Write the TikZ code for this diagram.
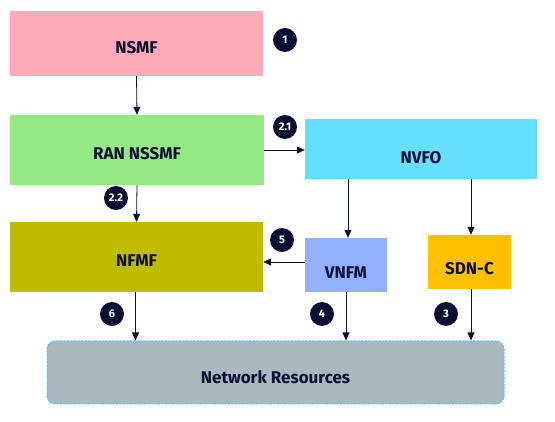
\documentclass[tikz,border=0pt]{standalone}
\usepackage{fontspec}
\setmainfont{Fira Sans}
\usetikzlibrary{positioning,arrows.meta}
\definecolor{ink}{HTML}{0A1033}
\definecolor{nsmfpink}{HTML}{FFAAB8}
\definecolor{ranGreen}{HTML}{94E985}
\definecolor{nvfoCyan}{HTML}{66DEFF}
\definecolor{nfmfOlive}{HTML}{BFBC00}
\definecolor{vnfmBlue}{HTML}{92B0FF}
\definecolor{sdncOrange}{HTML}{FFC000}
\definecolor{resGrey}{HTML}{A9B9BF}
\definecolor{resBorder}{HTML}{33CCFF}
\begin{document}
\begin{tikzpicture}[x=1pt,y=-1pt,
    boxnode/.style={rectangle, inner sep=0pt, font=\fontsize{17}{19}\selectfont\bfseries, text=ink},
    badge/.style={circle, fill=ink, text=white, inner sep=0pt, minimum size=24pt, font=\fontsize{11}{12}\selectfont\bfseries},
    flow/.style={-{Triangle[length=8pt,width=7pt]}, draw=ink, thick},]
    \useasboundingbox (0,0) rectangle (555,422);
    %Nodes
    \node[boxnode, fill=nsmfpink, minimum width=253pt, minimum height=65pt,
          label={[boxnode, yshift=-4pt]center:NSMF}] (nsmf) at (136.5,43.5) {};
    \node[boxnode, fill=ranGreen, minimum width=254pt, minimum height=70pt,
          label={[boxnode, yshift=-4pt]center:RAN NSSMF}] (ran) at (137,150) {};
    \node[boxnode, fill=nvfoCyan, minimum width=232pt, minimum height=60pt,
          label={[boxnode, yshift=-9pt]center:NVFO}] (nvfo) at (421,149) {};
    \node[boxnode, fill=nfmfOlive, minimum width=253pt, minimum height=70pt,
          label={[boxnode, yshift=-4pt]center:NFMF}] (nfmf) at (136.5,257) {};
    \node[boxnode, fill=vnfmBlue, minimum width=82pt, minimum height=54pt,
          label={[boxnode, yshift=-8pt]center:VNFM}] (vnfm) at (346,265) {};
    \node[boxnode, fill=sdncOrange, minimum width=83pt, minimum height=54pt,
          label={[boxnode, yshift=-7pt]center:SDN-C}] (sdnc) at (469.5,262) {};
    \node[boxnode, fill=resGrey, draw=resBorder, line width=1pt, dash pattern=on 2pt off 1.5pt,
          rounded corners=8pt, minimum width=457pt, minimum height=63pt,
          label={[boxnode, yshift=-5pt]center:Network Resources}] (res) at (275.5,372.5) {};

    %Badges
    \node[badge] (b1) at (285,40) {1};
    \node[badge] (b21) at (285,127) {2.1};
    \node[badge] (b22) at (116,198) {2.2};
    \node[badge] (b5) at (282,240) {5};
    \node[badge] (b6) at (112,314) {6};
    \node[badge] (b4) at (322,314) {4};
    \node[badge] (b3) at (446,314) {3};

    %Lines
    \draw[flow] (nsmf.south) -- (ran.north);
    \draw[flow] (ran.east) -- (ran.east -| nvfo.west);
    \draw[flow] (ran.south) -- (nfmf.north);
    \draw[flow] ([xshift=-73pt]nvfo.south) -- ([xshift=-73pt]nvfo.south |- vnfm.north);
    \draw[flow] ([xshift=50pt]nvfo.south) -- ([xshift=50pt]nvfo.south |- sdnc.north);
    \draw[flow] (vnfm.west |- 0,262) -- (nfmf.east |- 0,262);
    \draw[flow] ([xshift=-1pt]nfmf.south) -- ([xshift=-1pt]nfmf.south |- res.north);
    \draw[flow] (vnfm.south) -- (vnfm.south |- res.north);
    \draw[flow] ([xshift=1.5pt]sdnc.south) -- ([xshift=1.5pt]sdnc.south |- res.north);
\end{tikzpicture}
\end{document}
